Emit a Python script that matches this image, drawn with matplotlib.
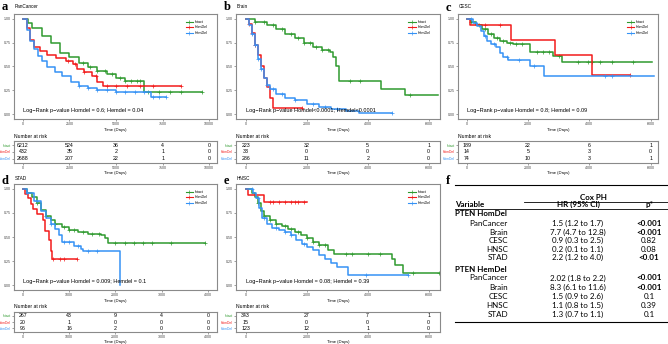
"""
PTEN deletion survival curves (Kaplan-Meier) with risk tables and Cox PH summary
"""
import numpy as np
import matplotlib
matplotlib.use('Agg')
import matplotlib.pyplot as plt
from matplotlib.lines import Line2D

W, H = 668, 344
GREEN = '#2f9a2f'
RED = '#f21b1b'
BLUE = '#3592f5'
COLORS = [GREEN, RED, BLUE]
group_labels = ['Intact', 'HomDel', 'HemDel']
KM_FONT = 'Liberation Sans'

# ---- survival steps: (time in days, survival); last pair = end of follow-up ----
pan_intact = [(0, 1.0), (250, 0.955), (500, 0.902), (1000, 0.815), (1500, 0.745), (2000, 0.64),
              (2500, 0.595), (3000, 0.535), (3500, 0.493), (4000, 0.458), (4500, 0.423),
              (5000, 0.378), (5500, 0.343), (6500, 0.238), (9600, 0.238)]
pan_homdel = [(0, 1.0), (200, 0.9), (400, 0.78), (600, 0.70), (900, 0.66), (1300, 0.62),
              (1800, 0.59), (2300, 0.56), (2700, 0.53), (2900, 0.47), (3300, 0.44),
              (3700, 0.40), (4000, 0.34), (4300, 0.30), (8500, 0.30)]
pan_hemdel = [(0, 1.0), (200, 0.88), (400, 0.77), (600, 0.68), (800, 0.61), (1000, 0.56),
              (1300, 0.49), (1700, 0.44), (2100, 0.40), (2600, 0.34), (3000, 0.30),
              (3500, 0.27), (4000, 0.25), (5000, 0.235), (6000, 0.23), (6900, 0.185), (7700, 0.185)]
pan_cens = [[3200, 3600, 4000, 4400, 4800, 5200, 5500, 5800, 6100, 6300, 6700, 7300, 7900, 8500, 9600],
            [2400, 2800, 3300, 3900, 4500, 5000, 5600, 6300, 7000, 8500],
            [3000, 3500, 4000, 4500, 5000, 5500, 6000, 6500, 7000, 7300, 7700]]

brain_intact = [(0, 1.0), (300, 0.97), (700, 0.93), (1000, 0.89), (1300, 0.84), (1600, 0.80),
                (1900, 0.75), (2200, 0.70), (2500, 0.67), (2750, 0.655), (2850, 0.60),
                (2950, 0.50), (3050, 0.345), (4450, 0.266), (5220, 0.20), (6300, 0.20)]
brain_homdel = [(0, 1.0), (100, 0.95), (200, 0.85), (300, 0.73), (400, 0.62), (500, 0.50),
                (600, 0.38), (700, 0.28), (800, 0.17), (900, 0.06), (1840, 0.06)]
brain_hemdel = [(0, 1.0), (100, 0.93), (200, 0.84), (300, 0.72), (400, 0.58), (500, 0.47),
                (600, 0.38), (700, 0.31), (800, 0.26), (1000, 0.21), (1300, 0.17), (1600, 0.15),
                (2000, 0.11), (2400, 0.08), (2800, 0.05), (3300, 0.03), (3700, 0.017), (4790, 0.017)]
brain_cens = [[300, 600, 900, 1200, 1500, 1700, 1900, 2100, 2300, 2500, 2700, 3420, 3750, 5390],
              [100, 200, 300, 1840],
              [200, 300, 400, 500, 700, 900, 1200, 1600, 2200, 2600, 3000, 4790]]

cesc_intact = [(0, 1.0), (150, 0.97), (300, 0.94), (500, 0.89), (700, 0.84), (900, 0.80),
               (1100, 0.77), (1300, 0.75), (1500, 0.735), (2050, 0.655), (2800, 0.61),
               (3100, 0.55), (6030, 0.55)]
cesc_homdel = [(0, 1.0), (110, 0.94), (1450, 0.775), (2880, 0.62), (4080, 0.406), (5330, 0.406)]
cesc_hemdel = [(0, 1.0), (200, 0.96), (350, 0.92), (450, 0.87), (550, 0.82), (650, 0.77),
               (800, 0.74), (950, 0.70), (1100, 0.64), (1200, 0.60), (1350, 0.57),
               (2060, 0.50), (2530, 0.40), (6100, 0.40)]
cesc_cens = [[150, 400, 600, 800, 1000, 1200, 1400, 1600, 1800, 2300, 2500, 2700, 3000,
              3620, 3970, 4080, 4350, 4730, 5410],
             [600, 1090, 5330],
             [150, 300, 600, 900, 1300, 1700, 2200, 4500, 4730]]

stad_intact = [(0, 1.0), (100, 0.96), (200, 0.91), (300, 0.85), (400, 0.78), (500, 0.72),
               (600, 0.68), (700, 0.64), (850, 0.60), (1000, 0.575), (1200, 0.55),
               (1400, 0.535), (1700, 0.525), (1780, 0.49), (1850, 0.435), (3940, 0.435)]
stad_homdel = [(0, 1.0), (50, 0.95), (120, 0.90), (180, 0.84), (220, 0.79), (300, 0.74),
               (430, 0.68), (470, 0.56), (560, 0.47), (600, 0.35), (640, 0.27), (1165, 0.27)]
stad_hemdel = [(0, 1.0), (100, 0.96), (250, 0.87), (400, 0.77), (500, 0.70), (600, 0.64),
               (700, 0.58), (780, 0.52), (850, 0.45), (1100, 0.41), (1250, 0.38),
               (1300, 0.355), (2100, 0.0)]
stad_cens = [[100, 300, 500, 700, 900, 1000, 1100, 1300, 1500, 1650, 2000, 2200, 2400,
              2600, 2800, 3200, 3940],
             [650, 800, 900, 1165],
             [100, 300, 600, 900, 1000, 1200, 1400, 1600]]

hnsc_intact = [(0, 1.0), (200, 0.96), (300, 0.92), (400, 0.85), (500, 0.77), (600, 0.72),
               (800, 0.68), (1000, 0.64), (1200, 0.61), (1400, 0.58), (1600, 0.55),
               (1800, 0.52), (2000, 0.49), (2200, 0.45), (2400, 0.42), (2700, 0.37),
               (2900, 0.32), (4800, 0.27), (4900, 0.21), (5170, 0.125), (6350, 0.125)]
hnsc_homdel = [(0, 1.0), (60, 0.94), (610, 0.86), (2000, 0.86)]
hnsc_hemdel = [(0, 1.0), (250, 0.96), (350, 0.90), (450, 0.80), (550, 0.70), (700, 0.64),
               (850, 0.59), (1100, 0.57), (1300, 0.55), (1500, 0.52), (1650, 0.47),
               (1850, 0.43), (2000, 0.40), (2200, 0.36), (2400, 0.31), (2600, 0.27),
               (2800, 0.23), (3000, 0.19), (3370, 0.107), (5330, 0.107)]
hnsc_cens = [[400, 600, 800, 1000, 1300, 1500, 1700, 2000, 2200, 2400, 2600, 3300, 3500,
              4000, 4400, 5500, 6350],
             [800, 900, 1100, 1300, 1500, 1600, 1700, 1900],
             [200, 400, 600, 1000, 1300, 1500, 1900, 3950, 5330]]

# ---- number at risk ----
pan_risk_t = [0, 2500, 5000, 7500, 10000]
pan_risk = [[6212, 524, 36, 4, 0], [432, 35, 2, 1, 0], [2688, 207, 22, 1, 0]]
brain_risk_t = [0, 2000, 4000, 6000]
brain_risk = [[223, 32, 5, 1], [33, 0, 0, 0], [286, 11, 2, 0]]
cesc_risk_t = [0, 2000, 4000, 6000]
cesc_risk = [[189, 22, 6, 1], [14, 5, 3, 0], [74, 10, 3, 1]]
stad_risk_t = [0, 1000, 2000, 3000, 4000]
stad_risk = [[267, 43, 9, 4, 0], [20, 1, 0, 0, 0], [96, 16, 2, 0, 0]]
hnsc_risk_t = [0, 2000, 4000, 6000]
hnsc_risk = [[343, 27, 7, 1], [15, 0, 0, 0], [123, 12, 1, 0]]

# ---- Cox PH table ----
cox_cancers = ['PanCancer', 'Brain', 'CESC', 'HNSC', 'STAD']
homdel_hr = ['1.5 (1.2 to 1.7)', '7.7 (4.7 to 12.8)', '0.9 (0.3 to 2.5)', '0.2 (0.1 to 1.1)', '2.2 (1.2 to 4.0)']
homdel_p = ['<0.001', '<0.001', '0.82', '0.08', '<0.01']
hemdel_hr = ['2.02 (1.8 to 2.2)', '8.3 (6.1 to 11.6)', '1.5 (0.9 to 2.6)', '1.1 (0.8 to 1.5)', '1.3 (0.7 to 1.1)']
hemdel_p = ['<0.001', '<0.001', '0.1', '0.39', '0.1']

fig = plt.figure(figsize=(W / 100, H / 100), dpi=100)


def px_axes(l, t, r, b):
    return fig.add_axes([l / W, 1 - b / H, (r - l) / W, (b - t) / H])


def style_frame(ax):
    for sp in ax.spines.values():
        sp.set_color('#8a8a8a')
        sp.set_linewidth(0.8)
    ax.tick_params(length=1.5, width=0.4, color='#555555', labelsize=2.6,
                   labelcolor='#444444', pad=1)


def km_panel(letter, title, title_y, pbox, tbox, xlim, xticks, curves, cens, pval, risk_t, risk):
    l, t, r, b = pbox
    ax = px_axes(l, t, r, b)
    for steps, cen, col in zip(curves, cens, COLORS):
        ts = np.array([p[0] for p in steps])
        ss = np.array([p[1] for p in steps])
        ax.step(ts, ss, where='post', color=col, lw=1.1)
        idx = np.searchsorted(ts, cen, side='right') - 1
        ax.plot(cen, ss[idx], '+', color=col, ms=2.5, mew=0.5)
    ax.set_xlim(*xlim)
    ax.set_ylim(-0.05, 1.05)
    ax.set_xticks(xticks)
    ax.set_yticks([0, 0.25, 0.5, 0.75, 1.0])
    ax.set_yticklabels(['0.00', '0.25', '0.50', '0.75', '1.00'], family=KM_FONT)
    ax.set_xticklabels([str(x) for x in xticks], family=KM_FONT)
    style_frame(ax)
    ax.set_xlabel('Time (Days)', fontsize=3.0, family=KM_FONT, labelpad=1)
    ax.text(0, 0.035, pval, fontsize=4.0, family=KM_FONT, va='center', ha='left')

    # legend drawn in the upper right corner
    x0 = 0.845
    for i, (lab, col) in enumerate(zip(group_labels, COLORS)):
        y = 0.925 - i * 0.052
        ax.plot([x0, x0 + 0.035], [y, y], color=col, lw=0.8, transform=ax.transAxes)
        ax.plot([x0 + 0.0175], [y], '+', color=col, ms=2.2, mew=0.45, transform=ax.transAxes)
        ax.text(x0 + 0.045, y, lab, fontsize=2.6, family=KM_FONT, va='center',
                transform=ax.transAxes)

    fig.text((l + 0.5) / W, 1 - title_y / H, title, fontsize=3.4, family=KM_FONT, va='center')
    fig.text((l - 12) / W, 1 - (title_y + 1.5) / H, letter, fontsize=9, weight='bold',
             family='Liberation Serif', va='center')

    # risk table
    l2, t2, r2, b2 = tbox
    fig.text(l2 / W, 1 - (t2 - 5) / H, 'Number at risk', fontsize=3.6, family=KM_FONT,
             va='center')
    tab = px_axes(l2, t2, r2, b2)
    tab.set_xlim(*xlim)
    tab.set_ylim(0.35, 3.65)
    for row, counts in enumerate(risk):
        for tt, n in zip(risk_t, counts):
            tab.text(tt, 3 - row, str(n), fontsize=3.8, family=KM_FONT,
                     ha='center', va='center')
    tab.set_xticks(xticks)
    tab.set_xticklabels([str(x) for x in xticks], family=KM_FONT)
    tab.set_yticks([3, 2, 1])
    tab.set_yticklabels(group_labels, family=KM_FONT, fontsize=2.4)
    style_frame(tab)
    tab.tick_params(axis='y', labelsize=2.4)
    for lab, col in zip(tab.get_yticklabels(), COLORS):
        lab.set_color(col)
    tab.set_xlabel('Time (Days)', fontsize=3.0, family=KM_FONT, labelpad=0.5)


km_panel('a', 'PanCancer', 6, (14, 14, 217, 119), (14, 141, 217, 163), (-480, 10420),
         pan_risk_t, [pan_intact, pan_homdel, pan_hemdel], pan_cens,
         'Log\u2212Rank p\u2212value Homdel = 0.6; Hemdel = 0.04', pan_risk_t, pan_risk)
km_panel('b', 'Brain', 6, (236, 14, 440, 119), (236, 141, 440, 163), (-318, 6370),
         brain_risk_t, [brain_intact, brain_homdel, brain_hemdel], brain_cens,
         'Log\u2212Rank p\u2212value Homdel<0.0001; Hemdel<0.0001', brain_risk_t, brain_risk)
km_panel('c', 'CESC', 6.5, (458, 14, 658, 119), (458, 141, 658, 163), (-284, 6240),
         cesc_risk_t, [cesc_intact, cesc_homdel, cesc_hemdel], cesc_cens,
         'Log\u2212Rank p\u2212value Homdel = 0.8; Hemdel = 0.09', cesc_risk_t, cesc_risk)
km_panel('d', 'STAD', 179, (14, 184, 217, 290), (14, 312, 217, 332), (-190, 4200),
         stad_risk_t, [stad_intact, stad_homdel, stad_hemdel], stad_cens,
         'Log\u2212Rank p\u2212value Homdel = 0.009; Hemdel = 0.1', stad_risk_t, stad_risk)
km_panel('e', 'HNSC', 179, (236, 184, 440, 290), (236, 312, 440, 332), (-318, 6370),
         hnsc_risk_t, [hnsc_intact, hnsc_homdel, hnsc_hemdel], hnsc_cens,
         'Log\u2212Rank p\u2212value Homdel = 0.08; Hemdel = 0.39', hnsc_risk_t, hnsc_risk)

# ---- panel f: Cox PH table ----
TAB_FONT = 'Lato'
TAB_SIZE = 5.8


def fx(x):
    return x / W


def fy(y):
    return 1 - y / H


def hline(x1, x2, y, lw=0.8):
    fig.add_artist(Line2D([fx(x1), fx(x2)], [fy(y), fy(y)], color='black', lw=lw))


fig.text(fx(446), fy(181), 'f', fontsize=9, weight='bold', family='Liberation Serif',
         va='center')
hline(455, 668, 185)
fig.text(fx(593), fy(197.5), 'Cox PH', fontsize=TAB_SIZE, weight='bold', family=TAB_FONT,
         ha='center', va='center')
hline(524, 668, 202, lw=0.6)
fig.text(fx(455), fy(204.5), 'Variable', fontsize=TAB_SIZE, weight='bold', family=TAB_FONT,
         va='center')
fig.text(fx(578), fy(204.5), 'HR (95% CI)', fontsize=TAB_SIZE, weight='bold', family=TAB_FONT,
         ha='center', va='center')
fig.text(fx(649), fy(204.5), 'p*', fontsize=TAB_SIZE, weight='bold', family=TAB_FONT,
         ha='center', va='center')
hline(455, 668, 208.5, lw=0.6)

homdel_y = [223.3, 232.3, 240.8, 249.3, 257.8]
hemdel_y = [278, 287.7, 296.6, 305.6, 314.3]
fig.text(fx(455), fy(214), 'PTEN HomDel', fontsize=TAB_SIZE, weight='bold', family=TAB_FONT,
         va='center')
fig.text(fx(455), fy(269), 'PTEN HemDel', fontsize=TAB_SIZE, weight='bold', family=TAB_FONT,
         va='center')
for ys, hrs, ps in [(homdel_y, homdel_hr, homdel_p), (hemdel_y, hemdel_hr, hemdel_p)]:
    for y, name, hr, p in zip(ys, cox_cancers, hrs, ps):
        fig.text(fx(508), fy(y), name, fontsize=TAB_SIZE, family=TAB_FONT, ha='right', va='center')
        fig.text(fx(578), fy(y), hr, fontsize=TAB_SIZE, family=TAB_FONT, ha='center', va='center')
        fig.text(fx(649), fy(y), p, fontsize=TAB_SIZE, family=TAB_FONT, ha='center', va='center',
                 weight='bold' if p.startswith('<') else 'normal')
hline(455, 668, 321.5)

fig.savefig('out.png', dpi=100)
